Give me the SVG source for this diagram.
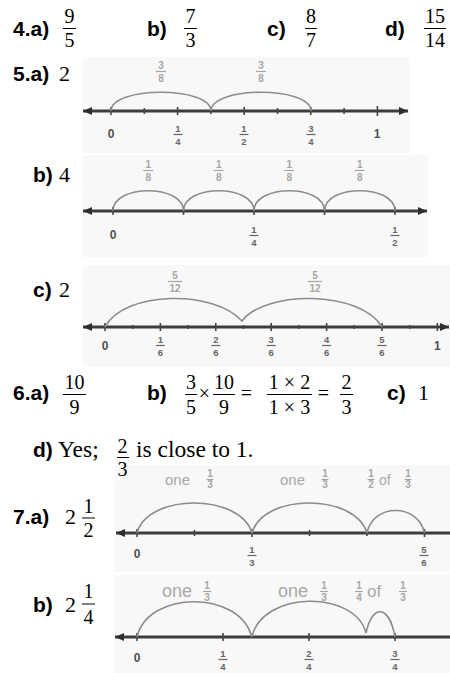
<svg xmlns="http://www.w3.org/2000/svg" width="450" height="673" viewBox="0 0 450 673">
<style>
.lbl{font-family:"Liberation Sans",Arial,sans-serif;font-weight:bold;font-size:21px;fill:#000}
.m{font-family:"Liberation Serif","Times New Roman",serif;font-size:22px;fill:#000}
.md{font-family:"Liberation Serif","Times New Roman",serif;font-size:23.5px;fill:#000}
.f{font-family:"Liberation Serif","Times New Roman",serif;font-size:20px;fill:#000;text-anchor:middle}
.bar{stroke:#000;stroke-width:1}
.bg{fill:#f8f8f8}
.ax{stroke:#3d3d3d;stroke-width:3;fill:none}
.tk{stroke:#454545;stroke-width:1.6;fill:none}
.arc{fill:none;stroke:#8c8c8c;stroke-width:1.6}
.nl{font-family:"Liberation Sans",Arial,sans-serif;font-weight:bold;font-size:12px;fill:#505050;text-anchor:middle}
.nf{font-family:"Liberation Sans",Arial,sans-serif;font-weight:bold;font-size:9.5px;fill:#666;text-anchor:middle}
.nb{stroke:#666;stroke-width:1.2}
.af{font-family:"Liberation Sans",Arial,sans-serif;font-weight:bold;font-size:10px;fill:#a6a6a6;text-anchor:middle}
.ab{stroke:#a6a6a6;stroke-width:1.2}
.aw{font-family:"Liberation Sans",Arial,sans-serif;fill:#a8a8a8}
</style>
<defs>
<marker id="ah" markerUnits="userSpaceOnUse" markerWidth="9" markerHeight="8" refX="9" refY="4" orient="auto-start-reverse">
<path d="M0,0 L9,4 L0,8 z" fill="#2e2e2e"/>
</marker>
</defs>

<g id="backgrounds">
<rect class="bg" x="83" y="57" width="327" height="96"/>
<rect class="bg" x="83" y="155" width="345" height="102"/>
<rect class="bg" x="83" y="265" width="367" height="102"/>
<rect class="bg" x="115" y="465" width="335" height="107"/>
<rect class="bg" x="115" y="575" width="335" height="98"/>
</g>

<g id="q4">
<text class="lbl" x="13" y="36">4.a)</text>
<text class="f" x="69.5" y="23">9</text><line class="bar" x1="63" y1="28.5" x2="76" y2="28.5"/><text class="f" x="69.5" y="47">5</text>
<text class="lbl" x="147" y="36">b)</text>
<text class="f" x="190.5" y="23">7</text><line class="bar" x1="184" y1="28.5" x2="197" y2="28.5"/><text class="f" x="190.5" y="47">3</text>
<text class="lbl" x="267" y="36">c)</text>
<text class="f" x="311" y="23">8</text><line class="bar" x1="305" y1="28.5" x2="317" y2="28.5"/><text class="f" x="311" y="47">7</text>
<text class="lbl" x="385" y="36">d)</text>
<text class="f" x="435" y="23">15</text><line class="bar" x1="424" y1="28.5" x2="446" y2="28.5"/><text class="f" x="435" y="47">14</text>
</g>

<g id="q5a">
<text class="lbl" x="13" y="81">5.a)</text><text class="m" x="59" y="81">2</text>
</g>
<g id="nl5a">
<line class="ax" x1="83" y1="111" x2="408" y2="111" marker-start="url(#ah)" marker-end="url(#ah)"/>
<path class="tk" d="M111,107V115M144.3,108V114M177.6,107V115M210.9,108V114M244.2,107V115M277.5,108V114M310.8,107V115M344.1,108V114M377.4,106V116"/>
<path class="arc" d="M111,111 C111,86 211,86 211,111 M211,111 C211,86 311,86 311,111"/>
<text class="af" x="161" y="69">3</text><line class="ab" x1="156" y1="71.5" x2="166" y2="71.5"/><text class="af" x="161" y="82">8</text>
<text class="af" x="261" y="69">3</text><line class="ab" x1="256" y1="71.5" x2="266" y2="71.5"/><text class="af" x="261" y="82">8</text>
<text class="nl" x="111" y="138">0</text>
<text class="nf" x="178" y="132">1</text><line class="nb" x1="173.5" y1="134.5" x2="182.5" y2="134.5"/><text class="nf" x="178" y="145">4</text>
<text class="nf" x="244" y="132">1</text><line class="nb" x1="239.5" y1="134.5" x2="248.5" y2="134.5"/><text class="nf" x="244" y="145">2</text>
<text class="nf" x="311" y="132">3</text><line class="nb" x1="306.5" y1="134.5" x2="315.5" y2="134.5"/><text class="nf" x="311" y="145">4</text>
<text class="nl" x="377" y="138">1</text>
</g>

<g id="q5b">
<text class="lbl" x="33" y="182">b)</text><text class="m" x="59" y="182">4</text>
</g>
<g id="nl5b">
<line class="ax" x1="83" y1="211" x2="427" y2="211" marker-start="url(#ah)" marker-end="url(#ah)"/>
<path class="tk" d="M113,207V215M183.5,207V215M254,207V215M324.5,207V215M395,207V215"/>
<path class="arc" d="M113,211 C113,184 183.5,184 183.5,211 M183.5,211 C183.5,184 254,184 254,211 M254,211 C254,184 324.5,184 324.5,211 M324.5,211 C324.5,184 395,184 395,211"/>
<text class="af" x="148.2" y="168">1</text><line class="ab" x1="143.2" y1="170.5" x2="153.2" y2="170.5"/><text class="af" x="148.2" y="181">8</text>
<text class="af" x="218.7" y="168">1</text><line class="ab" x1="213.7" y1="170.5" x2="223.7" y2="170.5"/><text class="af" x="218.7" y="181">8</text>
<text class="af" x="289.2" y="168">1</text><line class="ab" x1="284.2" y1="170.5" x2="294.2" y2="170.5"/><text class="af" x="289.2" y="181">8</text>
<text class="af" x="359.7" y="168">1</text><line class="ab" x1="354.7" y1="170.5" x2="364.7" y2="170.5"/><text class="af" x="359.7" y="181">8</text>
<text class="nl" x="113" y="239">0</text>
<text class="nf" x="254" y="233">1</text><line class="nb" x1="249.5" y1="235.5" x2="258.5" y2="235.5"/><text class="nf" x="254" y="246">4</text>
<text class="nf" x="395" y="233">1</text><line class="nb" x1="390.5" y1="235.5" x2="399.5" y2="235.5"/><text class="nf" x="395" y="246">2</text>
</g>

<g id="q5c">
<text class="lbl" x="33" y="297">c)</text><text class="m" x="59" y="297">2</text>
</g>
<g id="nl5c">
<line class="ax" x1="83" y1="327" x2="449" y2="327" marker-start="url(#ah)" marker-end="url(#ah)"/>
<path class="tk" d="M105,323V331M132.7,325V329M160.4,323V331M188.1,325V329M215.8,323V331M243.5,325V329M271.2,323V331M298.9,325V329M326.6,323V331M354.3,325V329M382,323V331M409.7,325V329M437.4,323V331"/>
<path class="arc" d="M105,327 C125,290 215,290 242,321 C265,290 360,290 382,327"/>
<text class="af" x="175" y="279">5</text><line class="ab" x1="168" y1="281.5" x2="182" y2="281.5"/><text class="af" x="175" y="292">12</text>
<text class="af" x="315" y="279">5</text><line class="ab" x1="308" y1="281.5" x2="322" y2="281.5"/><text class="af" x="315" y="292">12</text>
<text class="nl" x="105" y="350">0</text>
<text class="nf" x="160.4" y="343">1</text><line class="nb" x1="155.9" y1="345.5" x2="164.9" y2="345.5"/><text class="nf" x="160.4" y="356">6</text>
<text class="nf" x="215.8" y="343">2</text><line class="nb" x1="211.3" y1="345.5" x2="220.3" y2="345.5"/><text class="nf" x="215.8" y="356">6</text>
<text class="nf" x="271.2" y="343">3</text><line class="nb" x1="266.7" y1="345.5" x2="275.7" y2="345.5"/><text class="nf" x="271.2" y="356">6</text>
<text class="nf" x="326.6" y="343">4</text><line class="nb" x1="322.1" y1="345.5" x2="331.1" y2="345.5"/><text class="nf" x="326.6" y="356">6</text>
<text class="nf" x="382" y="343">5</text><line class="nb" x1="377.5" y1="345.5" x2="386.5" y2="345.5"/><text class="nf" x="382" y="356">6</text>
<text class="nl" x="437.4" y="350">1</text>
</g>

<g id="q6">
<text class="lbl" x="13" y="400">6.a)</text>
<text class="f" x="74.5" y="389">10</text><line class="bar" x1="63" y1="394.5" x2="86" y2="394.5"/><text class="f" x="74.5" y="414">9</text>
<text class="lbl" x="147" y="400">b)</text>
<text class="f" x="191" y="389">3</text><line class="bar" x1="185" y1="394.5" x2="197" y2="394.5"/><text class="f" x="191" y="414">5</text>
<text class="f" x="204.5" y="400">×</text>
<text class="f" x="224" y="389">10</text><line class="bar" x1="213" y1="394.5" x2="235" y2="394.5"/><text class="f" x="224" y="414">9</text>
<text class="f" x="246.5" y="400">=</text>
<text class="f" x="289.5" y="389">1 × 2</text><line class="bar" x1="267" y1="394.5" x2="312" y2="394.5"/><text class="f" x="289.5" y="414">1 × 3</text>
<text class="f" x="323.5" y="400">=</text>
<text class="f" x="346.5" y="389">2</text><line class="bar" x1="340" y1="394.5" x2="353" y2="394.5"/><text class="f" x="346.5" y="414">3</text>
<text class="lbl" x="387" y="400">c)</text>
<text class="m" x="418" y="400">1</text>
</g>

<g id="q7a">
<text class="lbl" x="13" y="524">7.a)</text><text class="m" x="65" y="524">2</text>
<text class="f" x="88.5" y="513">1</text><line class="bar" x1="82" y1="518" x2="95" y2="518"/><text class="f" x="88.5" y="537">2</text>
</g>
<g id="nl7a">
<line class="ax" x1="116" y1="533" x2="450" y2="533" marker-start="url(#ah)"/>
<path class="tk" d="M137,529V537M194.5,530V536M252,529V537M309.5,530V536M367,530V536M424.5,529V537"/>
<path class="arc" d="M137,533 C148,493 240,493 252,533 M252,533 C263,493 355,493 367,533 M367,533 C373,503 418,503 424.5,533"/>
<text class="aw" x="165" y="485" font-size="15">one</text>
<text class="af" x="210" y="477" font-size="8">1</text><line class="ab" x1="206.5" y1="479.5" x2="213.5" y2="479.5"/><text class="af" x="210" y="488" font-size="8">3</text>
<text class="aw" x="280" y="485" font-size="15">one</text>
<text class="af" x="325" y="477" font-size="8">1</text><line class="ab" x1="321.5" y1="479.5" x2="328.5" y2="479.5"/><text class="af" x="325" y="488" font-size="8">3</text>
<text class="af" x="371" y="477" font-size="8">1</text><line class="ab" x1="367.5" y1="479.5" x2="374.5" y2="479.5"/><text class="af" x="371" y="488" font-size="8">2</text>
<text class="aw" x="379" y="485" font-size="14">of</text>
<text class="af" x="408" y="477" font-size="8">1</text><line class="ab" x1="404.5" y1="479.5" x2="411.5" y2="479.5"/><text class="af" x="408" y="488" font-size="8">3</text>
<text class="nl" x="137" y="558">0</text>
<text class="nf" x="252" y="553">1</text><line class="nb" x1="247.5" y1="555.5" x2="256.5" y2="555.5"/><text class="nf" x="252" y="566">3</text>
<text class="nf" x="424" y="553">5</text><line class="nb" x1="419.5" y1="555.5" x2="428.5" y2="555.5"/><text class="nf" x="424" y="566">6</text>
</g>

<g id="q6d">
<text class="lbl" x="33" y="457">d)</text>
<text class="md" x="58" y="457">Yes;</text>
<text class="f" x="122.5" y="453">2</text><line class="bar" x1="117" y1="457.5" x2="129" y2="457.5"/><text class="f" x="122.5" y="476">3</text>
<text class="md" x="136" y="457">is close to 1.</text>
</g>

<g id="q7b">
<text class="lbl" x="33" y="612">b)</text><text class="m" x="65" y="612">2</text>
<text class="f" x="88.5" y="598">1</text><line class="bar" x1="82" y1="604" x2="95" y2="604"/><text class="f" x="88.5" y="624">4</text>
</g>
<g id="nl7b">
<line class="ax" x1="115" y1="637" x2="450" y2="637" marker-start="url(#ah)"/>
<path class="tk" d="M137,633V641M223,633V641M309,633V641M395,633V641"/>
<path class="arc" d="M137,637 C148,590 240,590 251.7,637 M251.7,637 C263,590 355,590 366,633 M366,633 C372,604 389,604 395,637"/>
<text class="aw" x="162" y="597" font-size="18">one</text>
<text class="af" x="207" y="589" font-size="9">1</text><line class="ab" x1="203" y1="591.5" x2="211" y2="591.5"/><text class="af" x="207" y="601" font-size="9">3</text>
<text class="aw" x="278" y="597" font-size="18">one</text>
<text class="af" x="324" y="589" font-size="9">1</text><line class="ab" x1="320" y1="591.5" x2="328" y2="591.5"/><text class="af" x="324" y="601" font-size="9">3</text>
<text class="af" x="359" y="589" font-size="9">1</text><line class="ab" x1="355" y1="591.5" x2="363" y2="591.5"/><text class="af" x="359" y="601" font-size="9">4</text>
<text class="aw" x="367" y="597" font-size="17">of</text>
<text class="af" x="403" y="589" font-size="9">1</text><line class="ab" x1="399" y1="591.5" x2="407" y2="591.5"/><text class="af" x="403" y="601" font-size="9">3</text>
<text class="nl" x="137" y="662">0</text>
<text class="nf" x="223" y="657">1</text><line class="nb" x1="218.5" y1="659.5" x2="227.5" y2="659.5"/><text class="nf" x="223" y="670">4</text>
<text class="nf" x="309" y="657">2</text><line class="nb" x1="304.5" y1="659.5" x2="313.5" y2="659.5"/><text class="nf" x="309" y="670">4</text>
<text class="nf" x="395" y="657">3</text><line class="nb" x1="390.5" y1="659.5" x2="399.5" y2="659.5"/><text class="nf" x="395" y="670">4</text>
</g>
</svg>
